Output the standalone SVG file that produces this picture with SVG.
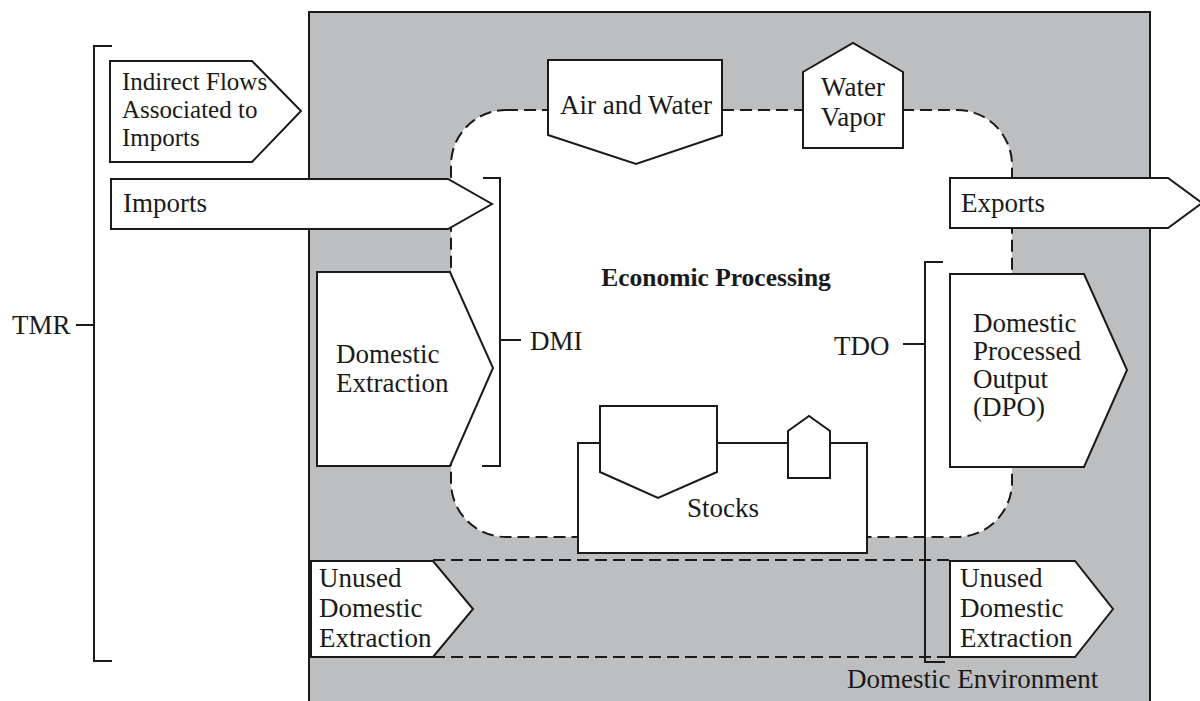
<svg xmlns="http://www.w3.org/2000/svg" width="1200" height="701" viewBox="0 0 1200 701">
  <style>
    .shape { fill: #ffffff; stroke: #1a1a1a; stroke-width: 2; stroke-linejoin: miter; }
    .line { fill: none; stroke: #1a1a1a; stroke-width: 2; }
    .dash { fill: none; stroke: #1a1a1a; stroke-width: 2; stroke-dasharray: 12 6; }
    .label { font-family: "Liberation Serif", "Times New Roman", serif; font-size: 25px; fill: #1a1a1a; }
    .big { font-size: 27px; }
    .bold { font-weight: bold; font-size: 25.5px; }
    .mid { text-anchor: middle; }
  </style>

  <!-- domestic environment (grey field) -->
  <rect id="environment" x="309" y="12" width="841" height="700" fill="#bdbec0" stroke="#1a1a1a" stroke-width="2"/>

  <!-- economic processing area -->
  <g id="economic-processing">
    <rect x="451" y="110" width="561" height="427" rx="55" ry="55" fill="#ffffff" stroke="none"/>
    <rect x="451" y="110" width="561" height="427" rx="55" ry="55" class="dash"/>
    <text x="716" y="286" class="label bold mid">Economic Processing</text>
  </g>

  <!-- unused extraction band -->
  <g id="unused-band">
    <line x1="433" y1="560" x2="950" y2="560" class="dash"/>
    <line x1="433" y1="657" x2="950" y2="657" class="dash"/>
  </g>

  <!-- inputs -->
  <g id="indirect-flows">
    <polygon points="110,61 252,61 301,111 252,162 110,162" class="shape"/>
    <text class="label"><tspan x="122" y="90">Indirect Flows</tspan><tspan x="122" y="118">Associated to</tspan><tspan x="122" y="146">Imports</tspan></text>
  </g>

  <g id="imports">
    <polygon points="111,179 448,179 492,204 448,229 111,229" class="shape"/>
    <text x="123" y="212" class="label big">Imports</text>
  </g>

  <g id="domestic-extraction">
    <polygon points="317,272 450,272 493,368 450,466 317,466" class="shape"/>
    <text class="label big"><tspan x="336" y="363">Domestic</tspan><tspan x="336" y="392">Extraction</tspan></text>
  </g>

  <g id="unused-extraction-in">
    <polygon points="311,561 433,561 473,609 433,657 311,657" class="shape"/>
    <text class="label big"><tspan x="319" y="587">Unused</tspan><tspan x="319" y="617">Domestic</tspan><tspan x="319" y="647">Extraction</tspan></text>
  </g>

  <!-- balancing flows -->
  <g id="air-and-water">
    <polygon points="548,60 722,60 722,135 636,164 548,135" class="shape"/>
    <text x="636" y="114" class="label big mid">Air and Water</text>
  </g>

  <g id="water-vapor">
    <polygon points="803,72 853,43 903,72 903,148 803,148" class="shape"/>
    <text class="label big mid"><tspan x="853" y="96">Water</tspan><tspan x="853" y="126">Vapor</tspan></text>
  </g>

  <!-- stocks -->
  <g id="stocks">
    <rect x="578" y="443" width="289" height="110" class="shape"/>
    <polygon points="600,406 717,406 717,472 658,498 600,472" class="shape"/>
    <polygon points="788,431 809,416 830,431 830,478 788,478" class="shape"/>
    <text x="723" y="517" class="label big mid">Stocks</text>
  </g>

  <!-- outputs -->
  <g id="exports">
    <polygon points="950,178 1168,178 1202,203 1168,228 950,228" class="shape"/>
    <text x="961" y="212" class="label big">Exports</text>
  </g>

  <g id="dpo">
    <polygon points="950,274 1084,274 1127,370 1084,467 950,467" class="shape"/>
    <text class="label big"><tspan x="973" y="332">Domestic</tspan><tspan x="973" y="360">Processed</tspan><tspan x="973" y="388">Output</tspan><tspan x="973" y="416">(DPO)</tspan></text>
  </g>

  <g id="unused-extraction-out">
    <polygon points="950,561 1075,561 1113,609 1075,657 950,657" class="shape"/>
    <text class="label big"><tspan x="960" y="587">Unused</tspan><tspan x="960" y="617">Domestic</tspan><tspan x="960" y="647">Extraction</tspan></text>
  </g>

  <text id="environment-label" x="847" y="688" class="label big">Domestic Environment</text>

  <!-- indicator brackets -->
  <g id="connectors">
    <polyline points="112,46 94,46 94,661 112,661" class="line"/>
    <line x1="76" y1="325" x2="94" y2="325" class="line"/>
    <polyline points="483,178 500,178 500,466 482,466" class="line"/>
    <line x1="500" y1="340" x2="521" y2="340" class="line"/>
    <polyline points="943,262 925,262 925,662 945,662" class="line"/>
    <line x1="903" y1="344" x2="925" y2="344" class="line"/>
  </g>

  <g id="indicator-labels">
    <text x="12" y="334" class="label big">TMR</text>
    <text x="530" y="350" class="label big">DMI</text>
    <text x="834" y="355" class="label big">TDO</text>
  </g>
</svg>
